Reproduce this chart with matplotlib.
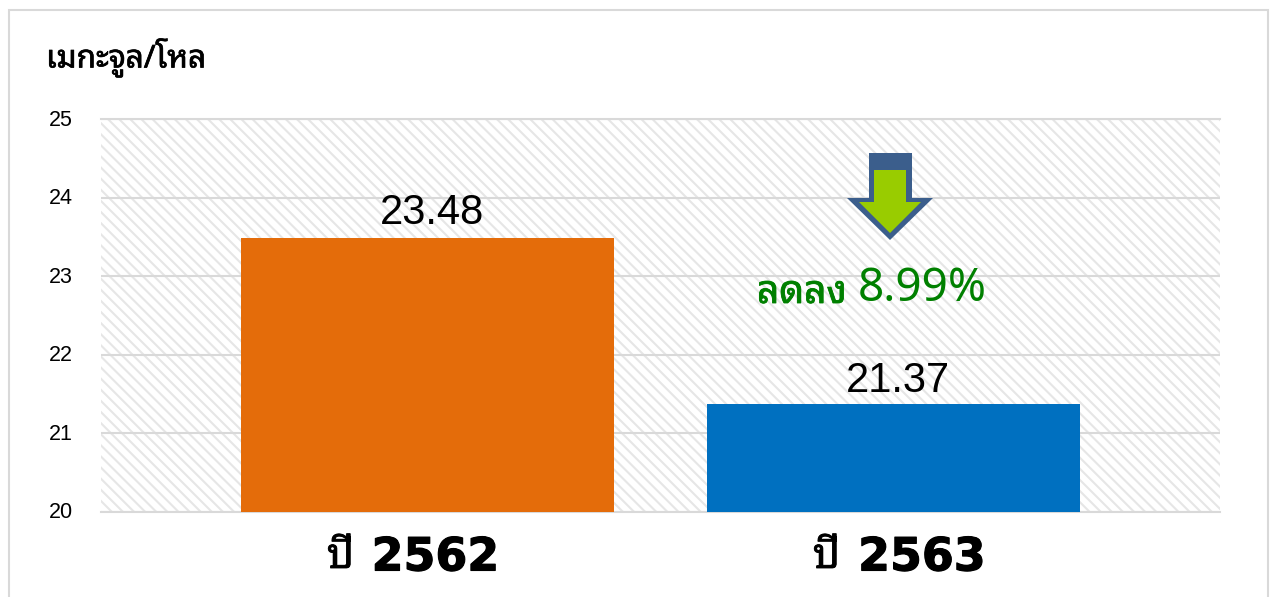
import matplotlib
matplotlib.use('Agg')
import matplotlib.pyplot as plt
from matplotlib.patches import Polygon, Rectangle
from matplotlib.patheffects import withStroke
from matplotlib.transforms import ScaledTranslation

plt.rcParams['hatch.linewidth'] = 1.5
plt.rcParams['hatch.color'] = '#e6e6e6'

THAI = 'Noto Sans Thai Looped'

# data
years = ['ปี', 'ปี']
year_nums = ['2562', '2563']
values = [23.48, 21.37]
bar_colors = ['#E46C0A', '#0070C0']
y_ticks = [20, 21, 22, 23, 24, 25]
y_title = 'เมกะจูล/โหล'
change_label = 'ลดลง'
change_value = '8.99%'

W, H = 1274, 597
fig = plt.figure(figsize=(W / 100, H / 100), dpi=100)


def px(points):
    return [(a / W, 1 - b / H) for a, b in points]


def bold(color, width=1.0):
    return [withStroke(linewidth=width, foreground=color)]


# axes box in reference pixels: x 101-1220, y 119-512
ax = fig.add_axes([101 / W, 1 - 512 / H, 1119 / W, 393 / H])
ax.set_xlim(-0.7006, 1.7006)
ax.set_ylim(20, 25)
ax.set_facecolor('white')
ax.patch.set_hatch('\\\\\\')
ax.patch.set_edgecolor('#e6e6e6')
ax.patch.set_linewidth(0)

x = list(range(len(values)))
ax.bar(x, [v - 20 for v in values], bottom=20, width=0.8, color=bar_colors, zorder=3)

# value labels sit a little right of the bar centre in the reference
for cx, cy, v in zip((432.5, 897.5), (213, 381), values):
    fig.text(cx / W, 1 - cy / H, f'{v:.2f}', ha='center', va='center', fontsize=30,
             family='Liberation Sans', color='black', zorder=7)

ax.set_yticks(y_ticks)
ax.set_yticklabels([str(t) for t in y_ticks], family='Liberation Sans', fontsize=15.5)
ax.tick_params(axis='y', length=0, pad=20)
ax.tick_params(axis='x', length=0, labelbottom=False)
for lab in ax.get_yticklabels():
    lab.set_transform(lab.get_transform() + ScaledTranslation(0, 1.5 / 100, fig.dpi_scale_trans))
ax.yaxis.grid(True, color='#d9d9d9', linewidth=1.5, zorder=1)
ax.set_axisbelow(True)
for s in ax.spines.values():
    s.set_visible(False)
ax.spines['bottom'].set_visible(True)
ax.spines['bottom'].set_color('#d9d9d9')
ax.spines['bottom'].set_linewidth(1.5)
ax.axhline(25, color='#d9d9d9', lw=1.5, clip_on=False, zorder=1)

# category labels: Thai word and the number in a wide heavy face
for right, centre, yr, num in zip((354, 840), (435.5, 922), years, year_nums):
    fig.text(right / W, 1 - 557 / H, yr, ha='right', va='center', family=THAI,
             fontsize=30, color='black', path_effects=bold('black', 0.6))
    fig.text(centre / W, 1 - 558 / H, num, ha='center', va='center', family='DejaVu Sans',
             fontweight='bold', fontsize=33, color='black', path_effects=bold('black', 0.8))

# outer frame of the chart
fig.add_artist(Rectangle((9 / W, 1 - 640 / H), 1259 / W, 630 / H, transform=fig.transFigure,
                         fill=False, edgecolor='#d9d9d9', linewidth=1.5))

# down arrow
fig.add_artist(Polygon(px([(869, 153), (912, 153), (912, 198), (933, 198), (890, 240),
                           (847, 198), (869, 198)]),
                       closed=True, transform=fig.transFigure, facecolor='#3B5E8C',
                       edgecolor='none', zorder=5))
fig.add_artist(Polygon(px([(874, 170), (906, 170), (906, 202), (921, 202), (890, 233),
                           (859, 202), (874, 202)]),
                       closed=True, transform=fig.transFigure, facecolor='#99CC00',
                       edgecolor='none', zorder=6))

fig.text(46 / W, 1 - 58 / H, y_title, family=THAI, fontsize=22.7, color='black',
         ha='left', va='center', path_effects=bold('black', 0.5))
fig.text(757 / W, 1 - 293 / H, change_label, family=THAI, fontsize=28, color='#008000',
         ha='left', va='center', zorder=7, path_effects=bold('#008000', 0.6))
fig.text(858 / W, 1 - 289 / H, change_value, family='Noto Sans', fontweight='bold', fontsize=33,
         color='#008000', ha='left', va='center', zorder=7)

fig.savefig('out.png', dpi=100)
